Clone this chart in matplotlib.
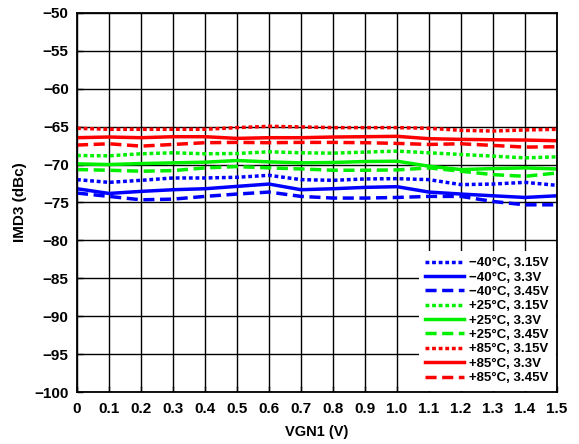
import numpy as np
import matplotlib
matplotlib.use("Agg")
import matplotlib.pyplot as plt

plt.rcParams['font.family'] = ['Liberation Sans', 'DejaVu Sans']
plt.rcParams['font.weight'] = 'bold'

# VGN1 sweep (V)
vgn1 = [0.0, 0.1, 0.2, 0.3, 0.4, 0.5, 0.6, 0.7, 0.8, 0.9, 1.0, 1.1, 1.2, 1.3, 1.4, 1.5]

# IMD3 (dBc)
m40_315 = [-71.99, -72.35, -72.08, -71.77, -71.77, -71.68, -71.42, -71.99, -72.08, -71.90, -71.86, -71.99, -72.65, -72.57, -72.35, -72.74]
m40_330 = [-73.19, -73.81, -73.54, -73.32, -73.19, -72.88, -72.57, -73.32, -73.19, -73.01, -72.92, -73.63, -73.89, -74.12, -74.34, -74.12]
m40_345 = [-73.76, -74.20, -74.65, -74.56, -74.20, -73.89, -73.63, -74.20, -74.42, -74.42, -74.34, -74.20, -74.20, -74.87, -75.31, -75.31]
p25_315 = [-68.81, -68.85, -68.58, -68.45, -68.58, -68.54, -68.32, -68.45, -68.50, -68.36, -68.23, -68.45, -68.67, -68.89, -69.12, -68.98]
p25_330 = [-69.91, -70.00, -69.87, -69.78, -69.69, -69.47, -69.65, -69.78, -69.73, -69.60, -69.56, -70.22, -70.66, -70.53, -70.44, -70.58]
p25_345 = [-70.66, -70.75, -70.88, -70.80, -70.44, -70.27, -70.44, -70.58, -70.75, -70.75, -70.71, -70.44, -70.88, -71.33, -71.55, -71.11]
p85_315 = [-65.22, -65.35, -65.35, -65.35, -65.35, -65.13, -64.96, -65.04, -65.13, -65.13, -65.13, -65.22, -65.49, -65.58, -65.44, -65.35]
p85_330 = [-66.46, -66.37, -66.46, -66.33, -66.33, -66.55, -66.46, -66.46, -66.37, -66.33, -66.28, -66.59, -66.68, -66.73, -66.77, -66.86]
p85_345 = [-67.43, -67.26, -67.57, -67.35, -67.12, -67.08, -67.12, -67.08, -67.08, -67.12, -67.21, -67.35, -67.26, -67.48, -67.70, -67.65]

labels = ['\u221240\u00b0C, 3.15V', '\u221240\u00b0C, 3.3V', '\u221240\u00b0C, 3.45V',
          '+25\u00b0C, 3.15V', '+25\u00b0C, 3.3V', '+25\u00b0C, 3.45V',
          '+85\u00b0C, 3.15V', '+85\u00b0C, 3.3V', '+85\u00b0C, 3.45V']
series = [m40_315, m40_330, m40_345, p25_315, p25_330, p25_345, p85_315, p85_330, p85_345]
colors = ['#0000ff'] * 3 + ['#00f000'] * 3 + ['#ff0000'] * 3
styles = [(0, (1.1, 0.8)), '-', (0, (3.2, 1.6))] * 3

fig = plt.figure(figsize=(5.79, 4.44), dpi=100)
ax = fig.add_axes([0.133, 0.117, 0.829, 0.854])

for y, lab, c, ls in zip(series, labels, colors, styles):
    ax.plot(vgn1, y, color=c, linestyle=ls, linewidth=2.5, label=lab)

ax.set_xlim(0, 1.5)
ax.set_ylim(-100, -50)
ax.set_xticks(np.arange(0, 1.51, 0.1))
ax.set_xticklabels(['0'] + ['%.1f' % v for v in np.arange(0.1, 1.51, 0.1)])
ax.set_yticks(np.arange(-100, -49, 5))
ax.set_yticklabels(['\u2212%d' % abs(v) for v in range(-100, -49, 5)])
ax.grid(True, color='black', linewidth=1.0)
ax.set_axisbelow(True)
ax.tick_params(direction='in', length=4, width=1.0, labelsize=11, top=False, right=False)
ax.tick_params(axis='x', pad=7)
ax.tick_params(axis='y', pad=6)
for s in ax.spines.values():
    s.set_linewidth(1.3)

ax.set_xlabel('VGN1 (V)', fontsize=10.5, fontweight='bold', labelpad=7)
ax.set_ylabel('IMD3 (dBc)', fontsize=11, fontweight='bold')
ax.yaxis.set_label_coords(-0.104, 0.5)

leg = ax.legend(loc='lower right', fontsize=9.5, frameon=True, fancybox=False,
                edgecolor='none', facecolor='white', framealpha=1,
                handlelength=2.95, handletextpad=0.4, labelspacing=0.16,
                borderaxespad=0.1, borderpad=0.5)
for t in leg.get_texts():
    t.set_fontweight('bold')

fig.savefig('out.png', dpi=100)
